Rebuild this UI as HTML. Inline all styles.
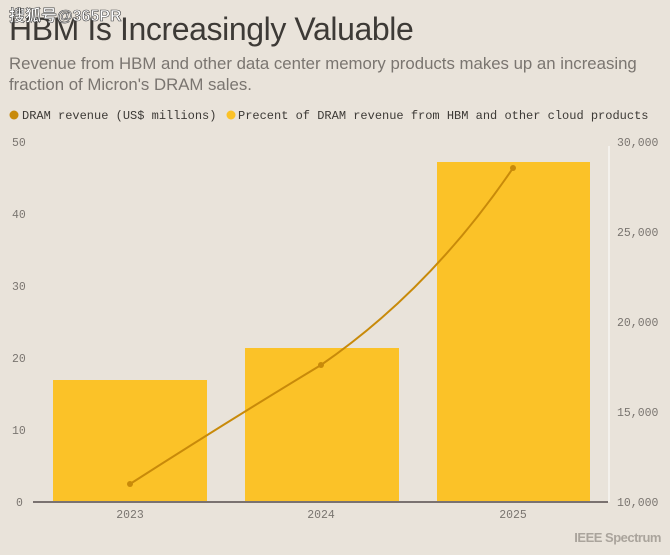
<!DOCTYPE html>
<html><head><style>
body{margin:0;background:#e9e3da;width:670px;height:550px;overflow:hidden;font-family:"Liberation Sans",sans-serif}
</style></head><body>
<svg width="670" height="550" xmlns="http://www.w3.org/2000/svg">
<rect width="670" height="550" fill="#e9e3da"/>
<text x="9" y="40" font-size="32" fill="#3d3a36" font-family="Liberation Sans, sans-serif" letter-spacing="-0.4">HBM Is Increasingly Valuable</text>
<text x="9" y="21" font-size="16" fill="#fff" font-weight="bold" font-family="Liberation Sans, Noto Sans CJK SC, sans-serif" stroke="#444" stroke-width="0.6">搜狐号@365PR</text>
<text x="9" y="69" font-size="16.8" fill="#7a7570">Revenue from HBM and other data center memory products makes up an increasing</text>
<text x="9" y="90" font-size="16.8" fill="#7a7570">fraction of Micron's DRAM sales.</text>
<circle cx="14" cy="115" r="4.5" fill="#c88a0a"/>
<text x="22" y="119" font-size="12" fill="#3d3a36" font-family="Liberation Mono, monospace">DRAM revenue (US$ millions)</text>
<circle cx="231" cy="115" r="4.5" fill="#fbc228"/>
<text x="238" y="119" font-size="12" fill="#3d3a36" font-family="Liberation Mono, monospace">Precent of DRAM revenue from HBM and other cloud products</text>
<g font-family="Liberation Mono, monospace" font-size="11.5" fill="#7a7570">
<text x="12" y="146">50</text><text x="12" y="218">40</text><text x="12" y="290">30</text><text x="12" y="362">20</text><text x="12" y="434">10</text><text x="16" y="506">0</text>
<text x="617" y="146">30,000</text><text x="617" y="236">25,000</text><text x="617" y="326">20,000</text><text x="617" y="416">15,000</text><text x="617" y="506">10,000</text>
<text x="130" y="518" text-anchor="middle">2023</text><text x="321" y="518" text-anchor="middle">2024</text><text x="513" y="518" text-anchor="middle">2025</text>
</g>
<line x1="609" y1="146" x2="609" y2="502" stroke="#fff" stroke-width="1"/>
<rect x="53" y="380" width="154" height="122" fill="#fbc228"/>
<rect x="245" y="348" width="154" height="154" fill="#fbc228"/>
<rect x="437" y="162" width="153" height="340" fill="#fbc228"/>
<line x1="33" y1="502" x2="608" y2="502" stroke="#7a7270" stroke-width="2"/>
<path d="M130 484 Q230 420 321 365 Q430 290 513 168" fill="none" stroke="#c88a0a" stroke-width="2"/>
<circle cx="130" cy="484" r="3" fill="#c88a0a"/><circle cx="321" cy="365" r="3" fill="#c88a0a"/><circle cx="513" cy="168" r="3" fill="#c88a0a"/>
<text x="661" y="542" text-anchor="end" font-size="13" font-weight="bold" fill="#aaa49c" letter-spacing="-0.5">IEEE Spectrum</text>
</svg>
</body></html>
